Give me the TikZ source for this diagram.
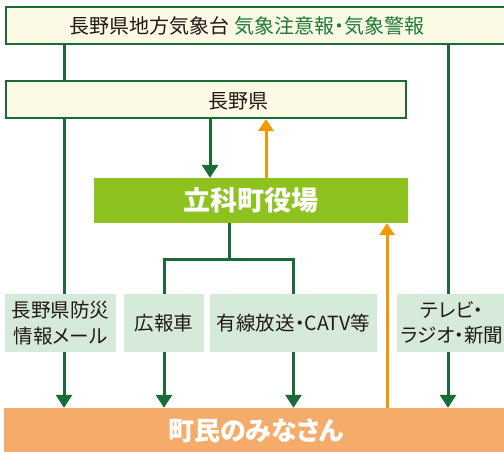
\documentclass[tikz,border=0pt]{standalone}
\usepackage{fontspec}
\setmainfont{Noto Sans CJK JP}[RawFeature=+palt]
\usetikzlibrary{arrows.meta}
\definecolor{dkgreen}{HTML}{1B6B37}
\definecolor{cream}{HTML}{FCF9E4}
\definecolor{leaf}{HTML}{8DC21F}
\definecolor{pale}{HTML}{D5EAD9}
\definecolor{orangeln}{HTML}{F39800}
\definecolor{peach}{HTML}{F5AC6A}
\definecolor{txt}{HTML}{231815}
\definecolor{gtxt}{HTML}{1F7A3A}
\begin{document}
\begin{tikzpicture}[x=1pt,y=-1pt,
  headbox/.style={draw=dkgreen,line width=2pt,fill=cream,rectangle,inner sep=0pt},
  leafbox/.style={fill=leaf,rectangle,inner sep=0pt,text=white,font=\fontsize{27}{30}\selectfont\bfseries},
  medbox/.style={fill=pale,rectangle,inner sep=0pt,text=txt,align=center,font=\fontsize{19.5}{25.5}\selectfont},
  peoplebox/.style={fill=peach,rectangle,inner sep=0pt,text=white,font=\fontsize{26}{30}\selectfont\bfseries},
  gline/.style={draw=dkgreen,line width=3pt},
  garrow/.style={gline,-{Triangle[length=13pt,width=16pt]}},
  oarrow/.style={draw=orangeln,line width=3pt,-{Triangle[length=12pt,width=15pt]}},
  lbl/.style={text=txt,font=\fontsize{20}{24}\selectfont,inner sep=0pt}]
\useasboundingbox (0,0) rectangle (504,451);
\clip (0,0) rectangle (504,451);
% boxes
\node[headbox,minimum width=506pt,minimum height=37pt] (jma) at (259,25.5) {};
\node[lbl] (jmat) at (247,26) {長野県地方気象台 \textcolor{gtxt}{気象注意報・気象警報}};
\node[headbox,minimum width=400pt,minimum height=37pt] (ken) at (206,99.5) {};
\node[lbl] (kent) at (238,101) {長野県};
\node[leafbox,minimum width=314pt,minimum height=45pt] (town) at (251,200.5) {立科町役場};
\node[medbox,minimum width=111pt,minimum height=58pt] (mail) at (60.5,323) {長野県防災\\情報メール};
\node[medbox,minimum width=80pt,minimum height=58pt] (car) at (164,323) {広報車};
\node[medbox,minimum width=167pt,minimum height=58pt] (catv) at (293.5,323) {有線放送・CATV等};
\node[medbox,minimum width=110pt,minimum height=58pt] (tv) at (452,323) {テレビ・\\ラジオ・新聞};
\node[peoplebox,minimum width=504pt,minimum height=46pt] (people) at (256,431) {町民のみなさん};
\coordinate (xl) at (64,0);
\coordinate (xr) at (448,0);
\coordinate (xk) at (210,0);
\coordinate (xo) at (266,0);
\coordinate (xt) at (229,0);
\coordinate (xp) at (387,0);
\coordinate (bend) at (0,259);
% connectors
\draw[gline] (jma.south -| xl) -- (ken.north -| xl);
\draw[gline] (ken.south -| xl) -- (mail.north -| xl);
\draw[gline] (jma.south -| xr) -- (tv.north -| xr);
\draw[garrow] (mail.south -| xl) -- (people.north -| xl);
\draw[garrow] (tv.south -| xr) -- (people.north -| xr);
\draw[garrow] (ken.south -| xk) -- (town.north -| xk);
\draw[oarrow] (town.north -| xo) -- (ken.south -| xo);
\draw[oarrow] (people.north -| xp) -- (town.south -| xp);
\draw[gline] (town.south -| xt) -- (bend -| xt);
\draw[gline,line cap=rect] (bend -| car) -- (bend -| catv);
\draw[gline] (bend -| car) -- (car.north);
\draw[gline] (bend -| catv) -- (catv.north);
\draw[garrow] (car.south) -- (car.south |- people.north);
\draw[garrow] (catv.south) -- (catv.south |- people.north);
\end{tikzpicture}
\end{document}
